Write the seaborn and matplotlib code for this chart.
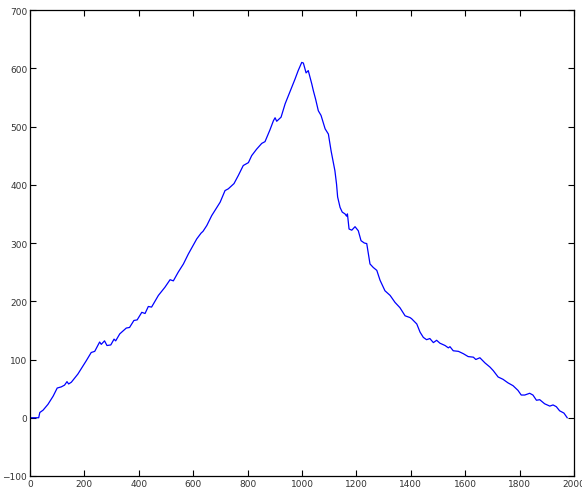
import matplotlib
matplotlib.use("Agg")
import matplotlib.pyplot as plt
import seaborn as sns
import pandas as pd

step = [0, 3, 32, 36, 48, 66, 85, 100, 115, 127, 136, 142, 152, 176, 207, 225, 238,
        256, 262, 274, 283, 297, 309, 315, 330, 354, 366, 382, 394, 411, 423, 435,
        447, 472, 496, 515, 527, 545, 564, 582, 600, 613, 629, 636, 650, 668, 680,
        699, 717, 729, 741, 750, 766, 784, 803, 815, 833, 852, 864, 882, 895, 901,
        907, 923, 938, 950, 962, 974, 986, 999, 1005, 1011, 1015, 1023, 1036, 1042,
        1050, 1060, 1070, 1085, 1097, 1107, 1115, 1121, 1127, 1131, 1140, 1148,
        1158, 1164, 1167, 1173, 1183, 1195, 1207, 1217, 1229, 1238, 1250, 1262,
        1275, 1287, 1305, 1324, 1342, 1360, 1379, 1397, 1403, 1422, 1434, 1446,
        1458, 1470, 1483, 1495, 1507, 1526, 1538, 1544, 1556, 1575, 1593, 1611,
        1630, 1639, 1654, 1673, 1691, 1703, 1721, 1739, 1757, 1776, 1794, 1806,
        1819, 1837, 1849, 1862, 1874, 1892, 1911, 1923, 1935, 1947, 1963, 1975]
value = [0, 0, 0, 9, 13, 23, 37, 51, 53, 56, 62, 58, 61, 75, 98, 112, 114,
         130, 126, 132, 124, 125, 135, 132, 144, 154, 155, 167, 168, 181, 179, 191,
         190, 210, 224, 237, 235, 250, 264, 281, 296, 307, 317, 320, 330, 347, 356,
         370, 390, 393, 398, 402, 416, 433, 438, 450, 461, 471, 474, 494, 510, 515,
         509, 516, 539, 553, 567, 581, 596, 610, 609, 599, 592, 596, 573, 561,
         547, 527, 519, 496, 487, 458, 439, 424, 401, 379, 361, 353,
         350, 346, 350, 324, 322, 328, 321, 304, 300, 299, 264, 258,
         253, 236, 218, 210, 198, 189, 175, 172, 170, 161, 147, 138,
         134, 136, 129, 133, 128, 124, 120, 122, 115, 114, 110, 105,
         104, 100, 103, 94, 87, 81, 70, 66, 60, 55, 47, 39,
         39, 42, 39, 30, 31, 24, 20, 22, 19, 12, 8, 0]

df = pd.DataFrame({"step": step, "value": value})

fig = plt.figure(figsize=(5.82, 4.89), dpi=100)
ax = fig.add_axes([30 / 582, 1 - 477 / 489, 544 / 582, 466 / 489])
sns.lineplot(data=df, x="step", y="value", ax=ax, color="#0000ff",
             linewidth=0.9, estimator=None, sort=False)
ax.set_xlim(0, 2000)
ax.set_ylim(-100, 700)
ax.set_xticks(range(0, 2001, 200))
ax.set_yticks(range(-100, 701, 100))
ax.set_xlabel("")
ax.set_ylabel("")
ax.tick_params(direction="in", length=4, width=0.8, top=True, right=True,
               labelsize=6.5, pad=2, colors="black", labelcolor="#333333")
for s in ax.spines.values():
    s.set_linewidth(0.9)
    s.set_color("black")
ax.set_facecolor("white")
fig.patch.set_facecolor("white")
fig.savefig("out.png", dpi=100)
